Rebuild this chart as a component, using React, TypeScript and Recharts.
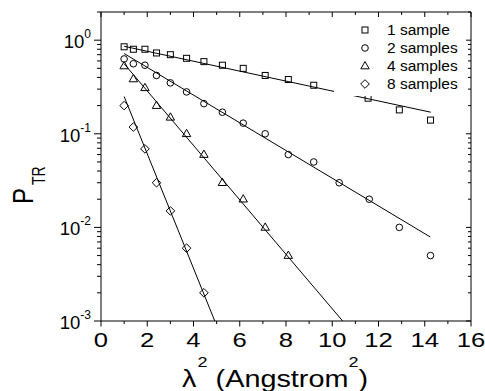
import React from "react";
import { ComposedChart, Line, Scatter, XAxis, YAxis, Legend } from "recharts";

const FONT = '"Liberation Sans", Arial, Helvetica, sans-serif';

// measured points, lambda^2 (Angstrom^2) vs P_TR
const x1 = [1.0, 1.4, 1.9, 2.4, 3.0, 3.7, 4.45, 5.25, 6.15, 7.1, 8.1, 9.2, 11.55, 12.9, 14.25];
const p1 = [0.85, 0.8, 0.8, 0.73, 0.7, 0.64, 0.59, 0.54, 0.5, 0.42, 0.38, 0.33, 0.24, 0.18, 0.14];

const x2 = [1.0, 1.4, 1.9, 2.4, 3.0, 3.7, 4.45, 5.25, 6.15, 7.1, 8.1, 9.2, 10.3, 11.6, 12.9, 14.25];
const p2 = [0.63, 0.56, 0.54, 0.42, 0.35, 0.28, 0.21, 0.17, 0.13, 0.1, 0.06, 0.05, 0.03, 0.02, 0.01, 0.005];

const x4 = [1.0, 1.4, 1.9, 2.4, 3.0, 3.7, 4.45, 5.25, 6.15, 7.1, 8.1];
const p4 = [0.53, 0.385, 0.31, 0.2, 0.15, 0.1, 0.06, 0.03, 0.02, 0.01, 0.005];

const x8 = [1.0, 1.4, 1.9, 2.4, 3.0, 3.7, 4.45];
const p8 = [0.2, 0.118, 0.069, 0.03, 0.015, 0.006, 0.002];

// fitted straight lines (end points)
const fit1X = [1.0, 14.26];
const fit1P = [0.86, 0.17];
const fit2X = [1.0, 14.24];
const fit2P = [0.72, 0.0079];
const fit4X = [1.0, 10.45];
const fit4P = [0.56, 0.001];
const fit8X = [1.0, 4.92];
const fit8P = [0.25, 0.001];

const names = ["1 sample", "2 samples", "4 samples", "8 samples"];
const kinds = ["square", "circle", "triangle", "diamond"];

const xTicks = [0, 1, 2, 3, 4, 5, 6, 7, 8, 9, 10, 11, 12, 13, 14, 15, 16];
const yMajor = [0.001, 0.01, 0.1, 1];

const toPts = (xs: number[], ys: number[]) => xs.map((x, i) => ({ x, y: ys[i] }));

const yTicks = yMajor
  .flatMap((d) => [1, 2, 3, 4, 5, 6, 7, 8, 9].map((k) => k * d))
  .filter((v) => v <= 2);
const isMajorY = (v: number) => yMajor.some((m) => Math.abs(v / m - 1) < 1e-6);

// plot frame in page pixels
const W = 485;
const H = 391;
const L = 101;
const R = 471;
const T = 12;
const B = 321;

function Marker({ cx, cy, kind }: { cx?: number; cy?: number; kind: string }) {
  if (cx == null || cy == null) return null;
  const st = { fill: "none", stroke: "#000", strokeWidth: 1 };
  if (kind === "square") return <rect x={cx - 3} y={cy - 3} width={6} height={6} {...st} />;
  if (kind === "circle") return <circle cx={cx} cy={cy} r={3.3} {...st} />;
  if (kind === "triangle")
    return <path d={`M${cx},${cy - 4.5}L${cx + 4.2},${cy + 2.8}L${cx - 4.2},${cy + 2.8}Z`} {...st} />;
  return <path d={`M${cx},${cy - 4.3}L${cx + 4.3},${cy}L${cx},${cy + 4.3}L${cx - 4.3},${cy}Z`} {...st} />;
}

const BottomTick = (props: any) => {
  const { x, payload } = props;
  const v = payload.value as number;
  const major = v % 2 === 0;
  return (
    <g>
      <line x1={x} x2={x} y1={B} y2={B + (major ? 5.5 : 3)} stroke="#000" />
      {major && (
        <text
          transform={`translate(${x},${B + 25.7}) scale(1.22,1)`}
          textAnchor="middle"
          fontSize={21}
          fontFamily={FONT}
          fill="#000"
        >
          {v}
        </text>
      )}
    </g>
  );
};

const TopTick = (props: any) => {
  const { x, payload } = props;
  const major = (payload.value as number) % 2 === 0;
  return <line x1={x} x2={x} y1={T} y2={T + (major ? 5 : 3)} stroke="#000" />;
};

const LeftTick = (props: any) => {
  const { y, payload } = props;
  const v = payload.value as number;
  const major = isMajorY(v);
  return (
    <g>
      <line x1={L - (major ? 7 : 4)} x2={L} y1={y} y2={y} stroke="#000" />
      {major && (
        <text x={91} y={y + 8} textAnchor="end" fontSize={18.5} fontFamily={FONT} fill="#000">
          10
          <tspan fontSize={12} dy={-10}>
            {Math.round(Math.log10(v))}
          </tspan>
        </text>
      )}
    </g>
  );
};

const RightTick = (props: any) => {
  const { y, payload } = props;
  const major = isMajorY(payload.value as number);
  return <line x1={R - (major ? 5 : 3)} x2={R} y1={y} y2={y} stroke="#000" />;
};

const LegendBox = () => (
  <svg width={128} height={78} style={{ display: "block", background: "#fff" }}>
    {names.map((n, i) => {
      const cy = 12 + i * 18;
      return (
        <g key={n}>
          <Marker cx={31} cy={cy} kind={kinds[i]} />
          <text x={53} y={cy + 5} fontSize={15.5} fontFamily={FONT} fill="#000">
            {n}
          </text>
        </g>
      );
    })}
  </svg>
);

const XTitle = () => (
  <text
    transform={`translate(275,386.5) scale(1.2,1)`}
    textAnchor="middle"
    fontSize={24}
    fontFamily={FONT}
    fill="#000"
  >
    λ
    <tspan fontSize={15} dx={1} dy={-20}>2</tspan>
    <tspan dy={20}> (Angstrom</tspan>
    <tspan fontSize={15} dy={-20}>2</tspan>
    <tspan dy={20}>)</tspan>
  </text>
);

const YTitle = () => (
  <text transform="translate(33,204) rotate(-90) scale(1,1.25)" fontSize={24} fontFamily={FONT} fill="#000">
    P
    <tspan fontSize={14} dx={3} dy={9.6}>
      TR
    </tspan>
  </text>
);

export default function App() {
  const series = [toPts(x1, p1), toPts(x2, p2), toPts(x4, p4), toPts(x8, p8)];
  const fits = [toPts(fit1X, fit1P), toPts(fit2X, fit2P), toPts(fit4X, fit4P), toPts(fit8X, fit8P)];

  return (
    <div style={{ width: W, height: H, overflow: "hidden", background: "#fff" }}>
      <style>{`body{margin:0}`}</style>
      <ComposedChart width={W} height={H} margin={{ top: 0, right: 0, bottom: 0, left: 0 }}>
        <XAxis
          dataKey="x"
          type="number"
          domain={[0, 16]}
          ticks={xTicks}
          allowDataOverflow
          height={H - B}
          axisLine={{ stroke: "#000" }}
          tickLine={false}
          tick={<BottomTick />}
          interval={0}
          label={<XTitle />}
        />
        <XAxis
          xAxisId="top"
          orientation="top"
          dataKey="x"
          type="number"
          domain={[0, 16]}
          ticks={xTicks}
          allowDataOverflow
          height={T}
          axisLine={{ stroke: "#000" }}
          tickLine={false}
          tick={<TopTick />}
          interval={0}
        />
        <YAxis
          dataKey="y"
          type="number"
          scale="log"
          domain={[0.001, 2]}
          ticks={yTicks}
          allowDataOverflow
          width={L}
          axisLine={{ stroke: "#000" }}
          tickLine={false}
          tick={<LeftTick />}
          interval={0}
          label={<YTitle />}
        />
        <YAxis
          yAxisId="right"
          orientation="right"
          dataKey="y"
          type="number"
          scale="log"
          domain={[0.001, 2]}
          ticks={yTicks}
          allowDataOverflow
          width={W - R}
          axisLine={{ stroke: "#000" }}
          tickLine={false}
          tick={<RightTick />}
          interval={0}
        />
        {fits.map((f, i) => (
          <Line
            key={`fit-${i}`}
            data={f}
            dataKey="y"
            type="linear"
            stroke="#000"
            strokeWidth={1}
            dot={false}
            legendType="none"
            isAnimationActive={false}
          />
        ))}
        {series.map((s, i) => (
          <Scatter
            key={names[i]}
            name={names[i]}
            data={s}
            dataKey="y"
            shape={(p: any) => <Marker cx={p.cx} cy={p.cy} kind={kinds[i]} />}
            isAnimationActive={false}
          />
        ))}
        <Legend
          layout="vertical"
          align="center"
          verticalAlign="middle"
          content={() => <LegendBox />}
          wrapperStyle={{ left: 334, top: 18, width: 128, height: 78 }}
        />
      </ComposedChart>
    </div>
  );
}
